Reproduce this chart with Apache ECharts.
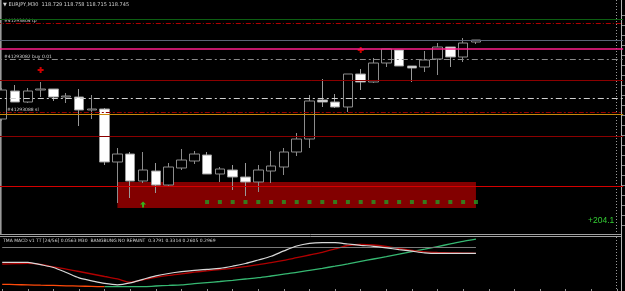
<!DOCTYPE html>
<html><head><meta charset="utf-8">
<script src="https://cdn.jsdelivr.net/npm/echarts/dist/echarts.min.js"></script>
<style>html,body{margin:0;padding:0;background:#000;overflow:hidden}#c{width:625px;height:291px}</style>
</head><body><div id="c"></div>
<script>
// ---- data (price in chart points) ----
const times = ['12.03 04:30','05:00','05:30','06:00','06:30','07:00','07:30','08:00','08:30','09:00','09:30','10:00','10:30','11:00','11:30','12:00','12:30','13:00','13:30','14:00','14:30','15:00','15:30','16:00','16:30','17:00','17:30','18:00','18:30','19:00','19:30','20:00','20:30','21:00','21:30','22:00','22:30','23:00','23:30','13.03 00:00','00:30','01:00','01:30','02:00','02:30','03:00','03:30','04:00','04:30'];
const opens  = [121,149,138,150,151,143,143,130,131,78,86,59,69,55,72,79,85,66,70,63,58,69,73,88,101,140,138,133,166,158,177,190,174,173,181,193,183,198];
const closes = [150,138,149,151,143,144,130,131,78,86,59,70,55,73,80,86,66,71,63,58,70,74,88,101,139,138,133,166,158,177,191,174,172,180,193,183,197,200];
const lows   = [119,138,137,143,139,137,114,121,75,37,42,57,47,53,70,76,66,58,50,44,48,57,65,84,92,133,132,128,150,157,173,174,158,168,165,173,178,196];
const highs  = [152,155,152,158,151,147,151,145,132,92,88,88,77,77,91,89,88,73,75,77,75,89,92,107,145,161,146,166,171,182,191,190,174,189,197,193,202,200];
// horizontal levels (tp, sl, open, support/resistance)
const levels = [221,217,200,191,181,160,142,128,126,104,54];
// demand zone
const zoneFrom = 9, zoneTo = 37, zoneLow = 32, zoneHigh = 58;
// signals
const signalIdx = [16,17,18,19,20,21,22,23,24,25,26,27,28,29,30,31,32,33,34,35,36,37];
const signalLevel = 38;
const buyArrow = [[11,35.5]];
const redMarks = [[3,170],[28,190]];
// TMA MACD indicator
const macdWhite = [28.7,28.7,28.7,26.3,23.5,18.5,13.1,10.2,7.6,6.2,8.1,11.7,15.1,17.5,19.3,20.6,21.6,22.6,24.8,27.5,31,34.7,40.1,45,47.7,48.4,48.3,47,45.7,44.6,43.1,41.4,39.8,38.2,37.7,37.7,37.7,37.7];
const macdRed   = [27,27.3,27.7,26.7,24.1,21.9,19.5,17,14.5,12.1,8.8,11.2,13.7,15.6,17.2,18.8,20.2,21.5,22.7,24.4,26.3,28.3,30.6,33.3,36,38.7,42.1,45.5,46.5,46,44.5,42.4,40.5,39.1,38.6,38.2,37.9,37.7];
const macdTrend = [6.7,6.4,6.1,5.8,5.6,5.2,4.9,4.6,4.3,4.3,4.3,4.3,5,5.6,6.2,7.3,8.4,9.5,10.7,12,13.3,15,16.8,18.6,20.7,22.7,24.8,27.1,29.6,32,34.4,36.9,39.4,41.8,44.4,47.1,49.7,51.8];
const macdZero = 44;
const profitText = '+204.1';

// ---- styles ----
const levelStyles = [
  {color:'#0d5e12',width:1,type:'solid'},
  {color:'#b00000',width:1,type:[5,2,1,2]},
  {color:'#5a6276',width:1,type:'solid'},
  {color:'#ff1e8c',width:1.5,type:'solid'},
  {color:'#8a8a8a',width:1,type:[6,3,2,3]},
  {color:'#8b0000',width:1,type:'solid'},
  {color:'#d0d0d0',width:1.2,type:[6,3,2,3]},
  {color:'#980000',width:1,type:[5,2,2,2]},
  {color:'#c8880a',width:1,type:'solid'},
  {color:'#8b0000',width:1,type:'solid'},
  {color:'#d40000',width:1,type:'solid'}
];

const candleData = opens.map((o,i)=>[o,closes[i],lows[i],highs[i]]);
const trendOrange = macdTrend.map((v,i)=> i<=8 ? v : null);
const trendGreen = macdTrend.map((v,i)=> i>=8 ? v : null);

const chart = echarts.init(document.getElementById('c'), null, {renderer:'canvas'});
const txt = '#d2d2d2';
const graphics = [
  {type:'rect', shape:{x:0,y:0,width:1.6,height:235}, style:{fill:'#9a9a9a'}, silent:true},
  {type:'line', shape:{x1:0,y1:234.5,x2:621,y2:234.5}, style:{stroke:'#a0a0a0',lineWidth:1}, silent:true},
  {type:'line', shape:{x1:0,y1:236.5,x2:621,y2:236.5}, style:{stroke:'#a0a0a0',lineWidth:1}, silent:true},
  {type:'line', shape:{x1:616.5,y1:0,x2:616.5,y2:291}, style:{stroke:'#9a9a9a',lineWidth:1,lineDash:[1,2]}, silent:true},
  {type:'line', shape:{x1:621.5,y1:0,x2:621.5,y2:291}, style:{stroke:'#b4b4b4',lineWidth:1}, silent:true},
  {type:'text', left:3, top:2, style:{text:'▼ EURJPY,M30  118.729 118.758 118.715 118.745', fill:txt, font:'5px "DejaVu Sans"'}, silent:true},
  {type:'text', left:4, top:18, style:{text:'#41293804 tp', fill:txt, font:'4.5px "DejaVu Sans"'}, silent:true},
  {type:'text', left:4, top:54, style:{text:'#41293082 buy 0.01', fill:txt, font:'4.5px "DejaVu Sans"'}, silent:true},
  {type:'text', left:7, top:107.5, style:{text:'#41293088 sl', fill:txt, font:'4.5px "DejaVu Sans"'}, silent:true},
  {type:'text', left:588, top:216, style:{text:profitText, fill:'#33cc33', font:'8.5px "Liberation Sans"'}, silent:true},
  {type:'text', left:3, top:238.5, style:{text:'TMA MACD v1 TT [24/56] 0.0563 M30  BANGBUNG NO REPAINT  0.3791 0.3314 0.2605 0.2969', fill:txt, font:'4.5px "DejaVu Sans"'}, silent:true}
];
for (let k=0;k<22;k++){ graphics.push({type:'line', shape:{x1:622,y1:15.5+10*k,x2:625,y2:15.5+10*k}, style:{stroke:'#8a8a8a',lineWidth:1}, silent:true}); }

chart.setOption({
  backgroundColor:'#000',
  animation:false,
  grid:[
    {left:-4.2, right:1.8, top:8, height:227, outerBoundsMode:'none', containLabel:false},
    {left:-4.2, right:1.8, top:237, height:54, outerBoundsMode:'none', containLabel:false}
  ],
  xAxis:[
    {type:'category', gridIndex:0, data:times, boundaryGap:true, show:false},
    {type:'category', gridIndex:1, data:times, boundaryGap:true, show:true,
     axisLine:{show:false}, axisLabel:{show:false}, splitLine:{show:false},
     axisTick:{show:true, inside:true, length:2, alignWithLabel:true, interval:1, lineStyle:{color:'#909090'}}}
  ],
  yAxis:[
    {type:'value', gridIndex:0, min:5, max:232, show:false},
    {type:'value', gridIndex:1, min:0, max:54, show:false}
  ],
  graphic: graphics,
  series:[
    {type:'scatter', xAxisIndex:0, yAxisIndex:0, data:[], z:1, silent:true,
     markArea:{silent:true, itemStyle:{color:'#820000', opacity:1},
       data:[[{coord:[zoneFrom, zoneLow]},{coord:[zoneTo, zoneHigh]}]]}},
    {type:'candlestick', xAxisIndex:0, yAxisIndex:0, data:candleData, z:3, barWidth:10, clip:true,
     itemStyle:{color:'#000000', color0:'#ffffff', borderColor:'#8c8c8c', borderColor0:'#9a9a9a', borderWidth:1},
     markLine:{silent:true, symbol:['none','none'], label:{show:false}, animation:false,
       data: levels.map((v,i)=>({yAxis:v, lineStyle:levelStyles[i]}))}},
    {type:'scatter', xAxisIndex:0, yAxisIndex:0, z:4, symbol:'rect', symbolSize:4,
     itemStyle:{color:'#249a24'}, data: signalIdx.map(i=>[i, signalLevel])},
    {type:'scatter', xAxisIndex:0, yAxisIndex:0, z:4, symbol:'path://M3,0L6,3H4V6H2V3H0Z', symbolSize:[6,6],
     itemStyle:{color:'#22e022'}, data: buyArrow},
    {type:'scatter', xAxisIndex:0, yAxisIndex:0, z:4, symbol:'path://M2,0H4V2H6V4H4V6H2V4H0V2H2Z', symbolSize:6,
     itemStyle:{color:'#ff0000'}, data: redMarks},
    {type:'line', xAxisIndex:1, yAxisIndex:1, data:macdTrend.map(()=>null), z:2, showSymbol:false,
     markLine:{silent:true, symbol:['none','none'], label:{show:false},
       lineStyle:{color:'#7a7a7a', width:1, type:'solid'},
       data:[[{coord:[0, macdZero]},{coord:[37, macdZero]}]]}},
    {type:'line', xAxisIndex:1, yAxisIndex:1, data:trendOrange, showSymbol:false, smooth:0.3, z:3,
     lineStyle:{color:'#ff4a0a', width:1.3}},
    {type:'line', xAxisIndex:1, yAxisIndex:1, data:trendGreen, showSymbol:false, smooth:0.3, z:3,
     lineStyle:{color:'#36b872', width:1.3}},
    {type:'line', xAxisIndex:1, yAxisIndex:1, data:macdRed, showSymbol:false, smooth:0.3, z:4,
     lineStyle:{color:'#b00000', width:1.3}},
    {type:'line', xAxisIndex:1, yAxisIndex:1, data:macdWhite, showSymbol:false, smooth:0.3, z:5,
     lineStyle:{color:'#d8d8d8', width:1.2}}
  ]
});
</script></body></html>
